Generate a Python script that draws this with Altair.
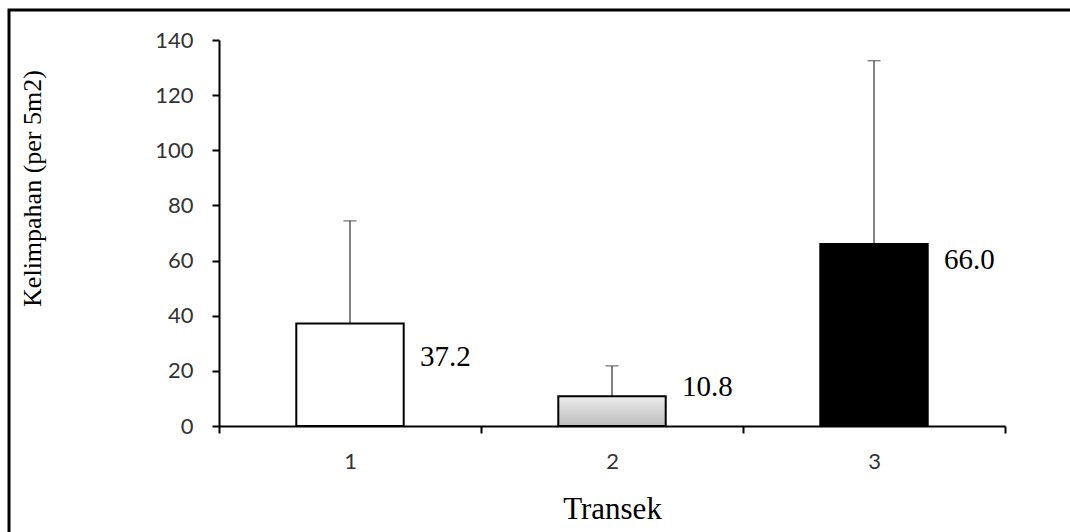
import altair as alt
import pandas as pd

transek = ["1", "2", "3"]
mean = [37.2, 10.8, 66.0]
upper = [74.4, 21.8, 132.5]
label_text = ["37.2", "10.8", "66.0"]
label_y = [25.0, 14.1, 60.2]

df = pd.DataFrame({
    "Transek": transek,
    "mean": mean,
    "upper": upper,
    "label": label_text,
    "label_y": label_y,
})

xscale = alt.Scale(domain=transek, paddingInner=0, paddingOuter=0)
yscale = alt.Scale(domain=[0, 140], nice=False)

x_enc = alt.X(
    "Transek:N",
    scale=xscale,
    axis=alt.Axis(
        title="Transek",
        labelAngle=0,
        tickBand="extent",
        labelPadding=18,
        titleFont="Liberation Serif",
        titleFontSize=31,
        titleFontWeight="normal",
        titleColor="black",
        titleY=83,
        titleBaseline="middle",
    ),
)
y_enc = alt.Y(
    "mean:Q",
    scale=yscale,
    axis=alt.Axis(
        title="Kelimpahan (per 5m2)",
        values=[0, 20, 40, 60, 80, 100, 120, 140],
        labelPadding=19,
        titleFont="Liberation Serif",
        titleFontSize=26,
        titleFontWeight="normal",
        titleColor="black",
        titleAngle=270,
        titleX=-187,
        titleY=148,
        titleAlign="center",
        titleBaseline="middle",
    ),
)

base = alt.Chart(df)

frame = base.transform_filter(alt.datum.Transek == "1").mark_rect(
    fill=None, stroke="black", strokeWidth=3
).encode(
    x=alt.value(-210), x2=alt.value(900), y=alt.value(-30), y2=alt.value(560)
)

err = base.mark_rule(color="#404040", strokeWidth=1.3).encode(
    x=x_enc, y=y_enc, y2="upper:Q"
)
cap = base.mark_tick(color="#404040", thickness=1.3, size=13).encode(
    x="Transek:N", y="upper:Q"
)

bar_w = {"band": 0.41}

bars = base.transform_filter(alt.datum.Transek != "2").mark_bar(
    stroke="black", strokeWidth=2, width=bar_w
).encode(
    x="Transek:N",
    y="mean:Q",
    fill=alt.Fill("Transek:N", scale=alt.Scale(domain=["1", "3"], range=["white", "black"]), legend=None),
)

grad = {
    "gradient": "linear",
    "x1": 0, "y1": 0, "x2": 0, "y2": 1,
    "stops": [
        {"offset": 0, "color": "#ececec"},
        {"offset": 1, "color": "#bdbdbd"},
    ],
}
bar2 = base.transform_filter(alt.datum.Transek == "2").mark_bar(
    stroke="black", strokeWidth=2, fill=grad, width=bar_w
).encode(x="Transek:N", y="mean:Q")

labels = base.mark_text(
    align="left", baseline="middle", dx=70,
    font="Liberation Serif", fontSize=29, color="black"
).encode(x="Transek:N", y="label_y:Q", text="label:N")

chart = alt.layer(frame, err, cap, bars, bar2, labels).properties(
    width=786,
    height=386,
    autosize=alt.AutoSizeParams(type="none"),
    padding={"left": 219, "top": 40, "right": 65, "bottom": 106},
    background="white",
).configure_view(stroke=None).configure_axis(
    grid=False,
    labelFont="Lato",
    labelFontSize=22,
    labelColor="#333333",
    domainColor="black",
    domainWidth=2,
    tickColor="black",
    tickWidth=2,
    tickSize=7,
)

chart.save("out.html", embed_options={"renderer": "svg", "actions": False})
